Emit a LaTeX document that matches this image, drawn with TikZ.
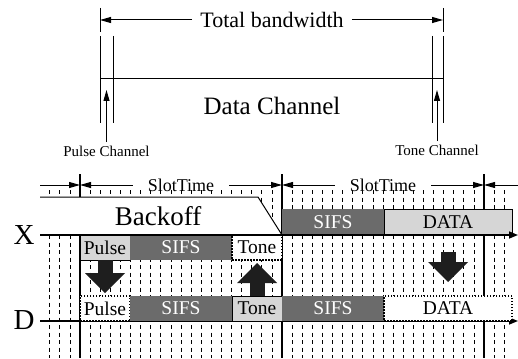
\documentclass[tikz,border=0pt]{standalone}
\usepackage{fontspec}
\setmainfont{Liberation Serif}
\usetikzlibrary{arrows.meta}
\definecolor{boxdark}{HTML}{6B6B6B}
\definecolor{boxlight}{HTML}{D6D6D6}
\definecolor{arrowdark}{HTML}{1E1E1E}
\tikzset{
  thinline/.style={line width=1pt},
  dimarrow/.style={thinline,-{Triangle[length=11pt,width=6pt]}},
  axisline/.style={line width=1.5pt,-{Triangle[length=9pt,width=7pt]}},
  slotline/.style={line width=1.2pt},
  griddash/.style={line width=0.7pt,dash pattern=on 4pt off 3.5pt},
  slotbox/.style={anchor=north west,inner sep=0pt,outer sep=0pt,minimum height=25pt,
    font=\fontsize{19.5}{20}\selectfont},
  lightbox/.style={slotbox,draw,thinline,fill=boxlight},
  darkbox/.style={slotbox,fill=boxdark,text=white},
  dotbox/.style={slotbox,draw,line width=1.2pt,dash pattern=on 1.5pt off 1.5pt,fill=white},
  bigarrow/.style={line width=15pt,draw=arrowdark,-{Triangle[length=20pt,width=40pt,line width=0pt]}},
}
\begin{document}
\begin{tikzpicture}[x=1pt,y=-1pt]
\useasboundingbox (0,0) rectangle (518,358);

% grid
\foreach \i in {-3,...,42}
  \draw[griddash] ({80+10.1*\i},190) -- ({80+10.1*\i},358);
\draw[slotline] (80,174) -- (80,358);
\draw[slotline] (282,174) -- (282,358);
\draw[slotline] (484,174) -- (484,358);

% backoff
\fill[white] (40,197) -- (258,197) -- (282,235) -- (40,235) -- cycle;
\draw[thinline] (40,197) -- (258,197) -- (282,235);
\node (backoff) [font=\fontsize{27}{28}\selectfont] at (158,216) {Backoff};

% bandwidth
\draw[thinline] (100,8) -- (100,32);
\draw[thinline] (443,8) -- (443,32);
\draw[thinline] (100,36) -- (100,123);
\draw[thinline] (113,36) -- (113,123);
\draw[thinline] (432,36) -- (432,123);
\draw[thinline] (443,36) -- (443,123);
\draw[thinline] (100,79) -- (443,79);
\node (total) [font=\fontsize{22}{24}\selectfont, inner xsep=8pt] at (272,20) {Total bandwidth};
\node (datach) [font=\fontsize{25}{26}\selectfont] at (272,106) {Data Channel};
\node (pulsech) [font=\fontsize{15}{16}\selectfont] at (106.5,151) {Pulse Channel};
\node (tonech) [font=\fontsize{15}{16}\selectfont] at (437,150) {Tone Channel};
\coordinate (tl) at (100,20);
\coordinate (tr) at (443,20);
\coordinate (pct) at (106.5,90);
\coordinate (tct) at (437,90);
\draw[dimarrow] (total) -- (tl);
\draw[dimarrow] (total) -- (tr);
\draw[dimarrow] (pulsech) -- (pct);
\draw[dimarrow] (tonech) -- (tct);

% slot times
\node (slot1) [font=\fontsize{18}{20}\selectfont, inner xsep=15pt] at (181,185) {SlotTime};
\node (slot2) [font=\fontsize{18}{20}\selectfont, inner xsep=15pt] at (383,185) {SlotTime};
\coordinate (s0) at (40,185);
\coordinate (s1) at (80,185);
\coordinate (s2) at (282,185);
\coordinate (s3) at (484,185);
\coordinate (s4) at (518,185);
\draw[dimarrow] (s0) -- (s1);
\draw[dimarrow] (slot1) -- (s1);
\draw[dimarrow] (slot1) -- (s2);
\draw[dimarrow] (slot2) -- (s2);
\draw[dimarrow] (slot2) -- (s3);
\draw[dimarrow] (s4) -- (s3);

% station X
\node (xpulse) [lightbox, minimum width=50pt] at (80,235) {Pulse};
\node (xsifs) [darkbox, minimum width=102pt] at (130,235) {SIFS};
\node (xtone) [dotbox, minimum width=50pt] at (232,235) {Tone};
\node (tsifs) [darkbox, minimum width=102pt, minimum height=26pt] at (282,209) {SIFS};
\node (tdata) [lightbox, minimum width=128pt, minimum height=26pt] at (384,209) {DATA};
\coordinate (xa) at (40,235);
\coordinate (xb) at (518,235);
\draw[axisline] (xa) -- (xb);
\node (xlab) [font=\fontsize{29}{30}\selectfont] at (24,235) {X};

% station D
\coordinate (da) at (40,321);
\coordinate (db) at (518,321);
\draw[axisline] (da) -- (db);
\node (dpulse) [dotbox, minimum width=50pt] at (80,296) {Pulse};
\node (dsifs) [darkbox, minimum width=102pt] at (130,296) {SIFS};
\node (dtone) [lightbox, minimum width=50pt] at (232,296) {Tone};
\node (dsifsb) [darkbox, minimum width=102pt] at (282,296) {SIFS};
\node (ddata) [dotbox, minimum width=128pt] at (384,296) {DATA};
\node (dlab) [font=\fontsize{29}{30}\selectfont] at (24,320) {D};

% signals
\coordinate (ra) at (448,252);
\coordinate (rb) at (448,282);
\draw[bigarrow, shorten >=3pt] (xpulse.south) -- (dpulse.north);
\draw[bigarrow, shorten >=3pt] (dtone.north) -- (xtone.south);
\draw[bigarrow] (ra) -- (rb);
\end{tikzpicture}
\end{document}
